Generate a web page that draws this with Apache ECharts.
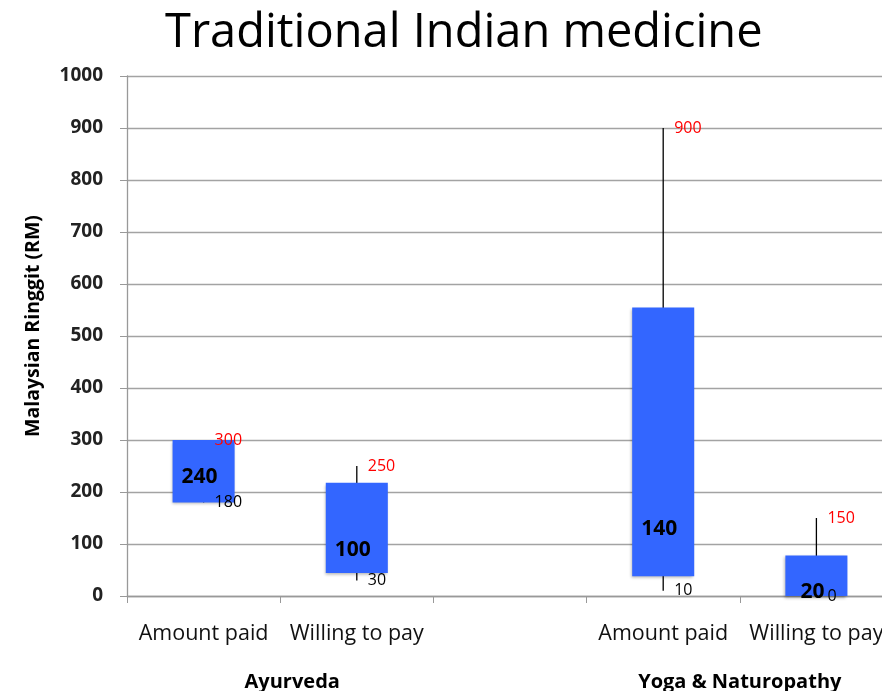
<!DOCTYPE html>
<html>
<head>
<meta charset="utf-8">
<script src="https://cdn.jsdelivr.net/npm/echarts@6/dist/echarts.min.js"></script>
<style>
    html, body { margin: 0; padding: 0; background: #fff; }
    #chart { width: 882px; height: 691px; }
</style>
</head>
<body>
<div id="chart"></div>
<script>
const categories = ["Amount paid", "Willing to pay", "", "Amount paid", "Willing to pay"];
const groupLabels = ["", "Ayurveda", "", "", "Yoga & Naturopathy", ""];
const boxBottom = [180, 44, null, 38, 0];
const boxTop = [300, 218, null, 555, 78];
const lowValues = [180, 30, null, 10, 0];
const highValues = [300, 250, null, 900, 150];
const midValues = [240, 100, null, 140, 20];
const yTicks = [0, 100, 200, 300, 400, 500, 600, 700, 800, 900, 1000];

const FONT = "Open Sans";

const boxData = [];
categories.forEach((c, i) => {
    if (boxBottom[i] == null) return;
    boxData.push([i, boxBottom[i], boxTop[i], lowValues[i], highValues[i], midValues[i]]);
});

function renderBox(params, api) {
    const x = api.value(0);
    const bottom = api.coord([x, api.value(1)]);
    const top = api.coord([x, api.value(2)]);
    const low = api.coord([x, api.value(3)]);
    const high = api.coord([x, api.value(4)]);
    const mid = api.coord([x, api.value(5)]);
    const w = api.size([1, 0])[0] * 0.405;
    return {
        type: "group",
        children: [
            {
                type: "line",
                shape: { x1: low[0], y1: low[1], x2: high[0], y2: high[1] },
                style: { stroke: "#000", lineWidth: 1.3 }
            },
            {
                type: "rect",
                shape: { x: top[0] - w / 2, y: top[1], width: w, height: bottom[1] - top[1] },
                style: {
                    fill: "#3366ff",
                    shadowBlur: 3,
                    shadowOffsetX: -1,
                    shadowOffsetY: 2,
                    shadowColor: "rgba(0,0,0,0.3)"
                }
            },
            {
                type: "text",
                x: mid[0] - 4,
                y: mid[1] + 6,
                style: {
                    text: String(api.value(5)),
                    fontFamily: FONT,
                    fontSize: 21,
                    fontWeight: "bold",
                    fill: "#000",
                    align: "center",
                    verticalAlign: "middle"
                }
            },
            {
                type: "text",
                x: high[0] + 11,
                y: high[1],
                style: {
                    text: String(api.value(4)),
                    fontFamily: FONT,
                    fontSize: 16,
                    fill: "#ff0000",
                    align: "left",
                    verticalAlign: "middle"
                }
            },
            {
                type: "text",
                x: low[0] + 11,
                y: low[1],
                style: {
                    text: String(api.value(3)),
                    fontFamily: FONT,
                    fontSize: 16,
                    fill: "#000",
                    align: "left",
                    verticalAlign: "middle"
                }
            }
        ]
    };
}

let myChart = echarts.init(document.getElementById("chart"));
let option = {
    animation: false,
    title: {
        text: "Traditional Indian medicine",
        left: 160,
        top: 5,
        textStyle: {
            fontFamily: FONT,
            fontSize: 47,
            fontWeight: "normal",
            color: "#000"
        }
    },
    grid: {
        left: 127,
        right: -11,
        top: 76,
        bottom: 95,
        containLabel: false,
        outerBoundsMode: "none"
    },
    xAxis: [
        {
            type: "category",
            data: categories,
            axisLine: { lineStyle: { color: "#999", width: 1.3 } },
            axisTick: { show: true, length: 7, lineStyle: { color: "#999" } },
            axisLabel: {
                margin: 27,
                fontFamily: FONT,
                fontSize: 21.5,
                color: "#111",
                interval: 0
            }
        },
        {
            type: "category",
            position: "bottom",
            boundaryGap: false,
            data: groupLabels.map((g, i) => (i === 1 ? { value: g, textStyle: { padding: [0, 0, 0, 24] } } : g)),
            axisLine: { show: false },
            axisTick: { show: false },
            axisLabel: {
                margin: 76,
                fontFamily: FONT,
                fontSize: 20,
                fontWeight: "bold",
                color: "#000",
                interval: 0
            }
        }
    ],
    yAxis: {
        type: "value",
        min: yTicks[0],
        max: yTicks[yTicks.length - 1],
        interval: 100,
        name: "Malaysian Ringgit (RM)",
        nameLocation: "middle",
        nameGap: 84,
        nameTextStyle: {
            fontFamily: FONT,
            fontSize: 19.5,
            fontWeight: "bold",
            color: "#000",
            padding: [0, 0, 0, 20]
        },
        axisLine: { show: true, lineStyle: { color: "#999", width: 1.3 } },
        axisTick: { show: true, length: 7, lineStyle: { color: "#999" } },
        splitLine: { lineStyle: { color: "#a3a3a3", width: 1.3 } },
        axisLabel: {
            margin: 24,
            fontFamily: FONT,
            fontSize: 19,
            fontWeight: "bold",
            color: "#222",
            formatter: v => String(v)
        }
    },
    series: [
        {
            type: "custom",
            xAxisIndex: 0,
            renderItem: renderBox,
            encode: { x: 0, y: [1, 2, 3, 4] },
            data: boxData,
            clip: false,
            z: 5
        }
    ]
};

myChart.setOption(option);
</script>
</body>
</html>
